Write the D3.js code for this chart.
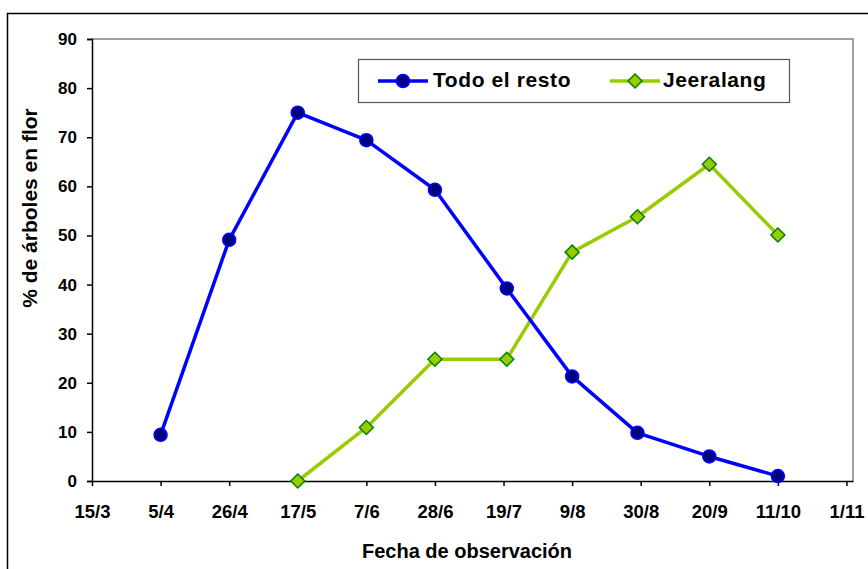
<!DOCTYPE html>
<html>
<head>
<meta charset="utf-8">
<script src="https://cdn.jsdelivr.net/npm/d3@7"></script>
<style>
  html, body { margin: 0; padding: 0; background: #fff; }
  svg { display: block; font-family: "Liberation Sans", Arial, sans-serif; font-weight: bold; }
</style>
</head>
<body>
<svg id="chart" width="868" height="569"></svg>
<script>
// Observation dates and % of trees in flower
const restoDates = ["2005-04-05", "2005-04-26", "2005-05-17", "2005-06-07", "2005-06-28",
                    "2005-07-20", "2005-08-09", "2005-08-29", "2005-09-20", "2005-10-11"];
const restoValues = [9.4, 49.1, 75, 69.4, 59.3, 39.2, 21.3, 9.8, 5, 1];

const jeeralangDates = ["2005-05-17", "2005-06-07", "2005-06-28", "2005-07-20",
                        "2005-08-09", "2005-08-29", "2005-09-20", "2005-10-11"];
const jeeralangValues = [0, 10.9, 24.8, 24.8, 46.6, 53.8, 64.5, 50.1];

const xTickDates = ["2005-03-15", "2005-04-05", "2005-04-26", "2005-05-17", "2005-06-07", "2005-06-28",
                    "2005-07-19", "2005-08-09", "2005-08-30", "2005-09-20", "2005-10-11", "2005-11-01"];
const yTickValues = [0, 10, 20, 30, 40, 50, 60, 70, 80, 90];

const seriesNames = ["Todo el resto", "Jeeralang"];
const xTitle = "Fecha de observación";
const yTitle = "% de árboles en flor";

const parse = d3.utcParse("%Y-%m-%d");
const fmt = d3.utcFormat("%-d/%-m");

const svg = d3.select("#chart");
const L = 92, R = 853, T = 39, B = 481;

const x = d3.scaleUtc()
  .domain([parse("2005-03-15"), parse("2005-11-03")])
  .range([L, R]);
const y = d3.scaleLinear().domain([0, 90]).range([B, T]);

// outer chart frame
svg.append("rect")
  .attr("x", 7.5).attr("y", 13.5).attr("width", 900).attr("height", 600)
  .attr("fill", "none").attr("stroke", "#000").attr("stroke-width", 1.5);

// plot area frame (top and right)
svg.append("path")
  .attr("d", `M${L},${T}H${R}V${B}`)
  .attr("fill", "none").attr("stroke", "#808080").attr("stroke-width", 1.5);

// y axis
const yAxis = svg.append("g")
  .attr("transform", `translate(${L},0)`)
  .call(d3.axisLeft(y).tickValues(yTickValues).tickSize(5).tickPadding(10));
yAxis.select(".domain").attr("stroke", "#000").attr("stroke-width", 1.5);
yAxis.selectAll(".tick line").attr("stroke", "#000").attr("stroke-width", 1.5);
yAxis.selectAll(".tick text")
  .attr("font-size", 17).attr("font-weight", "bold")
  .attr("font-family", "Liberation Sans, Arial, sans-serif").attr("fill", "#000");

// x axis
const xAxis = svg.append("g")
  .attr("transform", `translate(0,${B})`)
  .call(d3.axisBottom(x).tickValues(xTickDates.map(parse)).tickFormat(fmt)
        .tickSize(5).tickSizeOuter(0).tickPadding(19));
xAxis.select(".domain").attr("stroke", "#000").attr("stroke-width", 1.5);
xAxis.selectAll(".tick line").attr("stroke", "#000").attr("stroke-width", 1.5);
xAxis.selectAll(".tick text")
  .attr("font-size", 18.5).attr("font-weight", "bold")
  .attr("font-family", "Liberation Sans, Arial, sans-serif").attr("fill", "#000");

// axis titles
svg.append("text")
  .attr("x", 467).attr("y", 558)
  .attr("text-anchor", "middle").attr("font-size", 20)
  .text(xTitle);
svg.append("text")
  .attr("transform", "translate(37,208) rotate(-90)")
  .attr("text-anchor", "middle").attr("font-size", 21)
  .text(yTitle);

const line = d3.line().x(d => x(d.date)).y(d => y(d.value));

const resto = restoDates.map((d, i) => ({ date: parse(d), value: restoValues[i] }));
const jeer = jeeralangDates.map((d, i) => ({ date: parse(d), value: jeeralangValues[i] }));

const blue = "#0000FF", navy = "#000080", lime = "#99CC00", dgreen = "#008000";
const diamond = (cx, cy, r) => `M${cx},${cy - r}L${cx + r},${cy}L${cx},${cy + r}L${cx - r},${cy}Z`;

// Jeeralang series
svg.append("path").datum(jeer)
  .attr("d", line).attr("fill", "none")
  .attr("stroke", lime).attr("stroke-width", 3.5).attr("stroke-linejoin", "round");
svg.append("g").selectAll("path").data(jeer).join("path")
  .attr("d", d => diamond(x(d.date), y(d.value), 7))
  .attr("fill", lime).attr("stroke", dgreen).attr("stroke-width", 1.5);

// Todo el resto series
svg.append("path").datum(resto)
  .attr("d", line).attr("fill", "none")
  .attr("stroke", blue).attr("stroke-width", 3.5).attr("stroke-linejoin", "round");
svg.append("g").selectAll("circle").data(resto).join("circle")
  .attr("cx", d => x(d.date)).attr("cy", d => y(d.value)).attr("r", 6.5)
  .attr("fill", navy).attr("stroke", blue).attr("stroke-width", 1.5);

// legend
const lg = svg.append("g");
lg.append("rect")
  .attr("x", 358.5).attr("y", 59.5).attr("width", 431).attr("height", 43)
  .attr("fill", "#fff").attr("stroke", "#555").attr("stroke-width", 1.2);
const ly = 81;
lg.append("line").attr("x1", 378).attr("x2", 428).attr("y1", ly).attr("y2", ly)
  .attr("stroke", blue).attr("stroke-width", 3.5);
lg.append("circle").attr("cx", 403).attr("cy", ly).attr("r", 6.5)
  .attr("fill", navy).attr("stroke", blue).attr("stroke-width", 1.5);
lg.append("text").attr("x", 433).attr("y", 87).attr("font-size", 21)
  .attr("letter-spacing", 0.6).text(seriesNames[0]);
lg.append("line").attr("x1", 610).attr("x2", 660).attr("y1", ly).attr("y2", ly)
  .attr("stroke", lime).attr("stroke-width", 3.5);
lg.append("path").attr("d", diamond(635, ly, 7))
  .attr("fill", lime).attr("stroke", dgreen).attr("stroke-width", 1.5);
lg.append("text").attr("x", 663).attr("y", 87).attr("font-size", 21)
  .attr("letter-spacing", 0.6).text(seriesNames[1]);
</script>
</body>
</html>
